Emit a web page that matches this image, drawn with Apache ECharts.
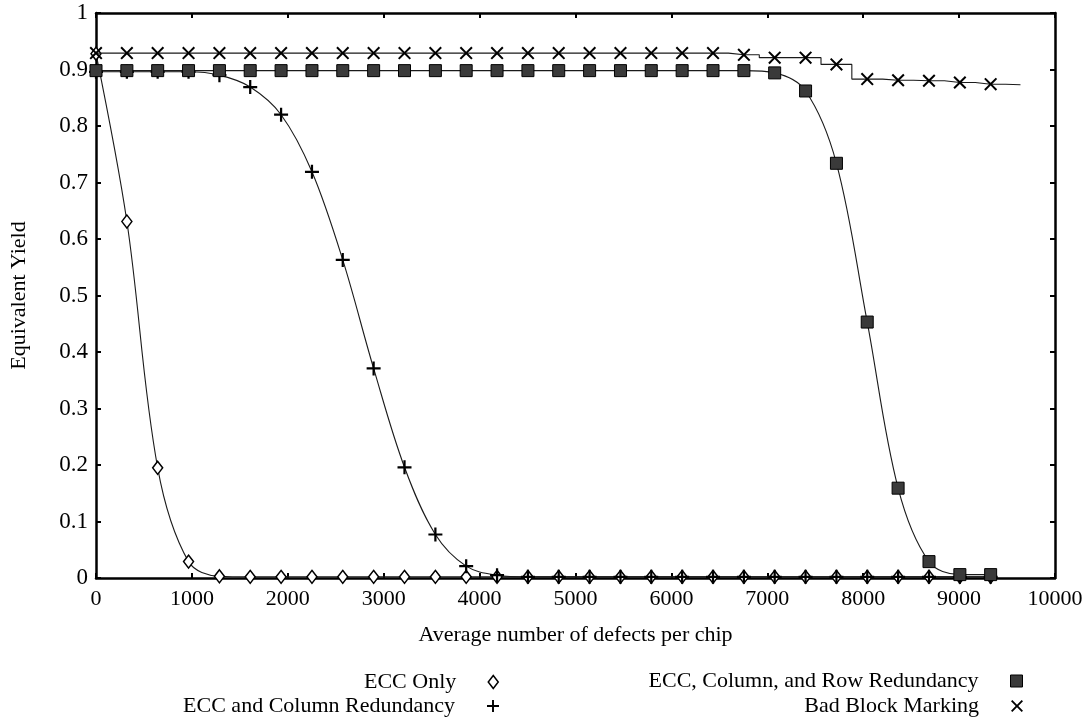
<!DOCTYPE html>
<html>
<head>
<meta charset="utf-8">
<script src="https://cdn.jsdelivr.net/npm/echarts@6/dist/echarts.min.js"></script>
<style>
html,body{margin:0;padding:0;background:#fff;}
#chart{width:1087px;height:719px;}
</style>
</head>
<body>
<div id="chart"></div>
<script>
// ---- data ----
const xValues = [0, 322, 643, 965, 1287, 1608, 1930, 2252, 2573, 2895, 3217, 3539, 3860, 4182, 4504,
                 4825, 5147, 5469, 5790, 6112, 6434, 6756, 7077, 7399, 7721, 8042, 8364, 8686, 9008, 9329];

const eccOnly = [0.928, 0.631, 0.195, 0.029, 0.003, 0.002, 0.002, 0.002, 0.002, 0.002,
                 0.002, 0.002, 0.002, 0.002, 0.002, 0.002, 0.002, 0.002, 0.002, 0.002,
                 0.002, 0.002, 0.002, 0.002, 0.002, 0.002, 0.002, 0.002, 0.002, 0.002];

const eccColumn = [0.896, 0.896, 0.896, 0.896, 0.890, 0.869, 0.820, 0.719, 0.563, 0.371,
                   0.196, 0.077, 0.021, 0.005, 0.002, 0.002, 0.002, 0.002, 0.002, 0.002,
                   0.002, 0.002, 0.002, 0.002, 0.002, 0.002, 0.002, 0.002, 0.002, 0.002];

const eccColumnRow = [0.898, 0.898, 0.898, 0.898, 0.898, 0.898, 0.898, 0.898, 0.898, 0.898,
                      0.898, 0.898, 0.898, 0.898, 0.898, 0.898, 0.898, 0.898, 0.898, 0.898,
                      0.898, 0.898, 0.894, 0.862, 0.734, 0.453, 0.159, 0.029, 0.006, 0.006];

const badBlock = [0.929, 0.929, 0.929, 0.929, 0.929, 0.929, 0.929, 0.929, 0.929, 0.929,
                  0.929, 0.929, 0.929, 0.929, 0.929, 0.929, 0.929, 0.929, 0.929, 0.929,
                  0.929, 0.926, 0.921, 0.921, 0.909, 0.883, 0.881, 0.880, 0.877, 0.874];
const badBlockTailX = 9640;
const badBlockTailY = 0.873;

const seriesNames = ['ECC Only', 'ECC and Column Redundancy', 'ECC, Column, and Row Redundancy', 'Bad Block Marking'];
const xTicks = [0, 10000, 1000];   // min, max, interval
const yTicks = [0, 1, 0.1];        // min, max, interval
const xTitle = 'Average number of defects per chip';
const yTitle = 'Equivalent Yield';

// ---- styling ----
const FONT = '"Liberation Serif", "DejaVu Serif", serif';
const PLUS = 'path://M4.2,0H5.8V4.2H10V5.8H5.8V10H4.2V5.8H0V4.2H4.2Z';
const CROSS = 'path://M0,1.1L1.1,0L5,3.9L8.9,0L10,1.1L6.1,5L10,8.9L8.9,10L5,6.1L1.1,10L0,8.9L3.9,5Z';
const LINE = { color: '#1a1a1a', width: 1.1 };

function pairs(ys) { return ys.map((y, i) => [xValues[i], y]); }

const bbData = pairs(badBlock);
bbData.push({ value: [badBlockTailX, badBlockTailY], symbol: 'none' });

const chart = echarts.init(document.getElementById('chart'), null, { renderer: 'canvas' });

const axisLineStyle = { onZero: false, lineStyle: { color: '#000', width: 2.5 } };
const tickStyle = { show: true, inside: true, length: 5, lineStyle: { color: '#000', width: 2 } };

function legendItem(name, icon, right, top, iw, ih, itemStyle) {
  return {
    data: [{ name: name, icon: icon, itemStyle: itemStyle }],
    right: right, top: top, padding: 0,
    align: 'right', orient: 'vertical',
    itemWidth: iw, itemHeight: ih,
    selectedMode: false,
    textStyle: { fontFamily: FONT, fontSize: 22, color: '#000', lineHeight: 24, padding: [0, 27, 0, 0] }
  };
}

const option = {
  backgroundColor: '#fff',
  animation: false,
  grid: { left: 90, right: 32, top: 13, bottom: 141, containLabel: false },
  legend: [
    legendItem(seriesNames[0], 'diamond', 588, 670, 10, 13, { color: '#fff', borderColor: '#000', borderWidth: 1.5 }),
    legendItem(seriesNames[1], PLUS, 588, 694, 12, 12, { color: '#000', borderWidth: 0 }),
    legendItem(seriesNames[2], 'rect', 64, 669, 12, 12, { color: '#3a3a3a', borderColor: '#000', borderWidth: 1 }),
    legendItem(seriesNames[3], CROSS, 64, 694, 12, 12, { color: '#000', borderWidth: 0 })
  ],
  xAxis: [
    {
      type: 'value', position: 'bottom',
      min: xTicks[0], max: xTicks[1], interval: xTicks[2],
      name: xTitle, nameLocation: 'middle', nameGap: 46,
      nameTextStyle: { fontFamily: FONT, fontSize: 22, color: '#000' },
      axisLine: axisLineStyle, axisTick: tickStyle,
      axisLabel: { fontFamily: FONT, fontSize: 22, color: '#000', margin: 10,
                   formatter: v => String(v) },
      splitLine: { show: false }
    },
    {
      type: 'value', position: 'top',
      min: xTicks[0], max: xTicks[1], interval: xTicks[2],
      axisLine: axisLineStyle, axisTick: tickStyle,
      axisLabel: { show: false }, splitLine: { show: false }
    }
  ],
  yAxis: [
    {
      type: 'value', position: 'left',
      min: yTicks[0], max: yTicks[1], interval: yTicks[2],
      name: yTitle, nameLocation: 'middle', nameGap: 66, nameRotate: 90,
      nameTextStyle: { fontFamily: FONT, fontSize: 22, color: '#000' },
      axisLine: axisLineStyle, axisTick: tickStyle,
      axisLabel: { fontFamily: FONT, fontSize: 23, color: '#000', margin: 8,
                   formatter: v => String(Math.round(v * 10) / 10) },
      splitLine: { show: false }
    },
    {
      type: 'value', position: 'right',
      min: yTicks[0], max: yTicks[1], interval: yTicks[2],
      axisLine: axisLineStyle, axisTick: tickStyle,
      axisLabel: { show: false }, splitLine: { show: false }
    }
  ],
  series: [
    {
      name: seriesNames[0], type: 'line', data: pairs(eccOnly),
      smooth: 0.35, clip: false,
      symbol: 'diamond', symbolSize: [10, 13],
      itemStyle: { color: '#fff', borderColor: '#000', borderWidth: 1.5 },
      lineStyle: LINE, z: 3
    },
    {
      name: seriesNames[1], type: 'line', data: pairs(eccColumn),
      smooth: 0.35, clip: false,
      symbol: PLUS, symbolSize: 14, symbolKeepAspect: true,
      itemStyle: { color: '#000', borderWidth: 0 },
      lineStyle: LINE, z: 4
    },
    {
      name: seriesNames[2], type: 'line', data: pairs(eccColumnRow),
      smooth: 0.35, clip: false,
      symbol: 'rect', symbolSize: 12,
      itemStyle: { color: '#3a3a3a', borderColor: '#000', borderWidth: 1 },
      lineStyle: LINE, z: 5
    },
    {
      name: seriesNames[3], type: 'line', data: bbData,
      step: 'middle', clip: false,
      symbol: CROSS, symbolSize: 13, symbolKeepAspect: true,
      itemStyle: { color: '#000', borderWidth: 0 },
      lineStyle: LINE, z: 6
    }
  ]
};

chart.setOption(option);
</script>
</body>
</html>
